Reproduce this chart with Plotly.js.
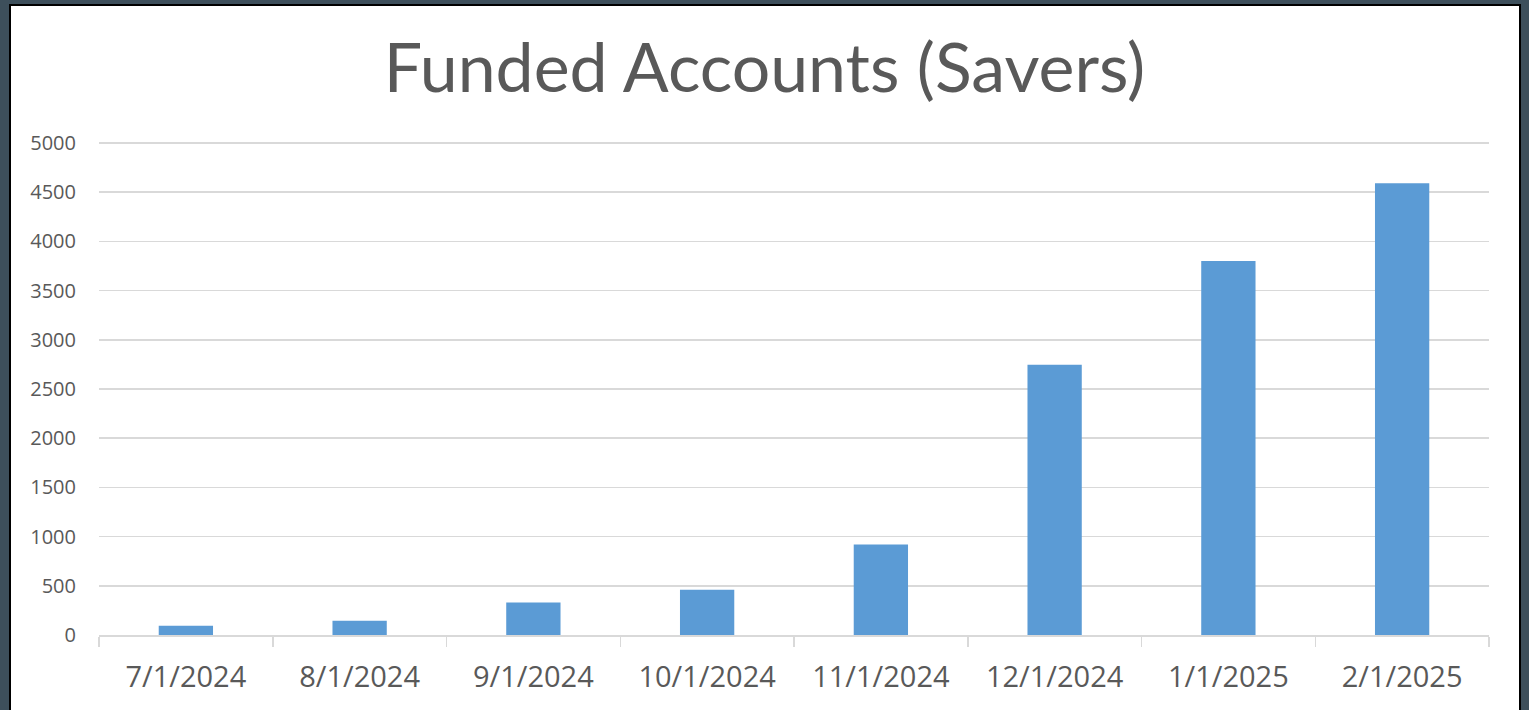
<!DOCTYPE html>
<html>
<head>
<meta charset="utf-8">
<script src="https://cdn.plot.ly/plotly-3.0.1.min.js"></script>
<style>
  html, body { margin: 0; padding: 0; width: 1529px; height: 710px; overflow: hidden; background: #3d4f5b; }
  #frame { position: absolute; left: 9px; top: 4px; width: 1508px; height: 712px; background: #ffffff; border: 2px solid #000000; }
  #chart { position: absolute; left: 0; top: 0; width: 1529px; height: 710px; }
</style>
</head>
<body>
<div id="frame"></div>
<div id="chart"></div>
<script>
const categories = ["7/1/2024", "8/1/2024", "9/1/2024", "10/1/2024", "11/1/2024", "12/1/2024", "1/1/2025", "2/1/2025"];
const fundedAccounts = [95, 145, 330, 460, 920, 2745, 3800, 4590];
const yTicks = [0, 500, 1000, 1500, 2000, 2500, 3000, 3500, 4000, 4500, 5000];
const chartTitle = "Funded Accounts (Savers)";

const trace = {
  type: "bar",
  x: categories,
  y: fundedAccounts,
  marker: { color: "#5b9bd5", line: { width: 0 } },
  hoverinfo: "x+y"
};

const layout = {
  width: 1529,
  height: 710,
  paper_bgcolor: "rgba(0,0,0,0)",
  plot_bgcolor: "rgba(0,0,0,0)",
  margin: { l: 99, r: 40, t: 138, b: 74.5, pad: 0 },
  showlegend: false,
  bargap: 0.6875,
  title: {
    text: chartTitle,
    x: 0.5,
    xref: "container",
    xanchor: "center",
    y: 0.871,
    yref: "container",
    yanchor: "bottom",
    font: { family: "Lato, 'Open Sans', sans-serif", size: 68, color: "#595959" }
  },
  xaxis: {
    type: "category",
    showgrid: false,
    showline: true,
    linecolor: "#d9d9d9",
    linewidth: 1.5,
    ticks: "outside",
    tickson: "boundaries",
    ticklen: 10,
    tickcolor: "#d9d9d9",
    tickwidth: 1.5,
    ticklabelstandoff: 16,
    tickfont: { family: "'Open Sans', sans-serif", size: 29, color: "#595959" },
    zeroline: false,
    fixedrange: true
  },
  yaxis: {
    range: [0, 5050],
    tickvals: yTicks,
    ticktext: yTicks.map(String),
    showgrid: true,
    gridcolor: "#d9d9d9",
    gridwidth: 1.5,
    showline: false,
    zeroline: false,
    ticks: "",
    ticklabelstandoff: 22,
    tickfont: { family: "'Open Sans', sans-serif", size: 20, color: "#595959" },
    fixedrange: true
  }
};

Plotly.newPlot("chart", [trace], layout, { displayModeBar: false, staticPlot: true });
</script>
</body>
</html>
